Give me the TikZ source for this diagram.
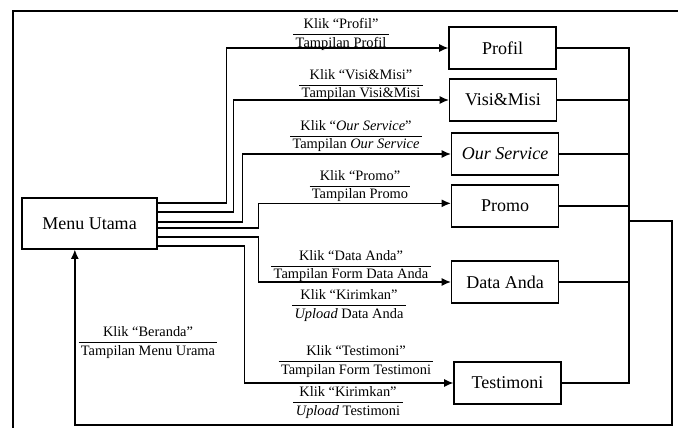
\documentclass[tikz,border=0pt]{standalone}
\usepackage{fontspec}
\setmainfont{Liberation Serif}
\usetikzlibrary{arrows.meta}
\newcommand{\duabaris}[2]{\begin{tabular}{@{\,}c@{\,}}#1\\\hline #2\end{tabular}}
\renewcommand{\arraystretch}{1.05}
\begin{document}
\begin{tikzpicture}[x=0.75pt,y=-0.75pt,line width=1pt,
    kotak/.style={draw, line width=1.1pt, minimum width=80pt, minimum height=31.5pt, inner sep=0pt, font=\fontsize{13.5}{15}\selectfont},
    ket/.style={inner sep=0pt, font=\fontsize{10.8}{12.8}\selectfont},
    >={Latex[length=7pt,width=6pt]}]
    \useasboundingbox (0,0) rectangle (678,428);
    % bingkai luar
    \draw (678,11) -- (13,11) -- (13,428);
    % kotak menu
    \node[kotak, minimum width=101pt, minimum height=38pt] (mu) at (89.5,223.5) {Menu Utama};
    \node[kotak] (profil) at (502.5,48) {Profil};
    \node[kotak] (visi) at (503,100) {Visi\&Misi};
    \node[kotak] (ours) at (505,154) {\textit{Our Service}};
    \node[kotak] (promo) at (505,206) {Promo};
    \node[kotak] (data) at (505,282) {Data Anda};
    \node[kotak] (testi) at (507.5,383) {Testimoni};
    % panah dari menu utama
    \draw[->] ([yshift=15.4pt]mu.east) -- ++(69,0) |- (profil.west);
    \draw[->] ([yshift=8.6pt]mu.east) -- ++(76,0) |- (visi.west);
    \draw[->] ([yshift=1.1pt]mu.east) -- ++(85,0) |- (ours.west);
    \draw[->] ([yshift=-3.4pt]mu.east) -- ++(101,0) |- ([yshift=2pt]promo.west);
    \draw[->] ([yshift=-10.1pt]mu.east) -- ++(101,0) |- (data.west);
    \draw[->] ([yshift=-16.9pt]mu.east) -- ++(87,0) |- (testi.west);
    % garis kembali
    \coordinate (bb) at (629,383);
    \coordinate (ret) at (629,221);
    \draw (profil.east) -| (bb) -- (testi.east);
    \foreach \b in {visi,ours,promo,data} {
    \draw (\b.east) -- (\b.east -| bb);
    }
    \draw[->] (ret) -- (672,221) -- (672,425) -| ([xshift=-11pt]mu.south);
    % keterangan
    \node[ket] (kprofil) at (341,34.5) {\duabaris{Klik “Profil”}{Tampilan Profil}};
    \node[ket] (kvisi) at (361,85) {\duabaris{Klik “Visi\&Misi”}{Tampilan Visi\&Misi}};
    \node[ket] (kours) at (356,136) {\duabaris{Klik “\textit{Our Service}”}{Tampilan \textit{Our Service}}};
    \node[ket] (kpromo) at (360,186) {\duabaris{Klik “Promo”}{Tampilan Promo}};
    \node[ket] (kdata) at (351,266) {\duabaris{Klik “Data Anda”}{Tampilan Form Data Anda}};
    \node[ket] (kkirim1) at (349,305.5) {\duabaris{Klik “Kirimkan”}{\textit{Upload} Data Anda}};
    \node[ket] (ktesti) at (356,361.5) {\duabaris{Klik “Testimoni”}{Tampilan Form Testimoni}};
    \node[ket] (kkirim2) at (348,402.5) {\duabaris{Klik “Kirimkan”}{\textit{Upload} Testimoni}};
    \node[ket] (kberanda) at (148,342.5) {\duabaris{Klik “Beranda”}{Tampilan Menu Urama}};
\end{tikzpicture}
\end{document}
